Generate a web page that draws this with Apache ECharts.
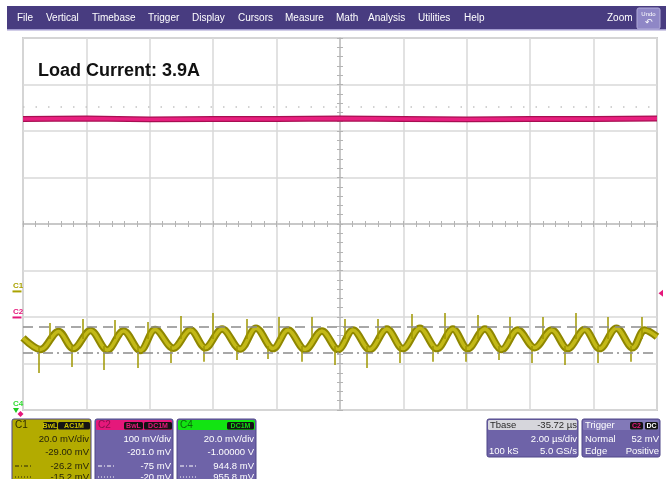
<!DOCTYPE html>
<html>
<head>
<meta charset="utf-8">
<title>Load Current: 3.9A</title>
<script src="https://cdn.jsdelivr.net/npm/echarts@6.0.0/dist/echarts.min.js"></script>
<style>
  html, body { margin: 0; padding: 0; background: #fff; }
  #scope { width: 666px; height: 479px; }
</style>
</head>
<body>
<div id="scope"></div>
<script>
  // ---- data ----
  // C1 output ripple (us, mV), peaks and troughs of the trace
  var c1Time = [-10, -9.45, -8.88, -8.41, -7.87, -7.34, -6.83, -6.30, -5.83, -5.26, -4.72,
    -4.25, -3.72, -3.15, -2.65, -2.11, -1.64, -1.10, -0.57, -0.06, 0.41,
    0.94, 1.48, 1.98, 2.52, 3.06, 3.56, 4.03, 4.57, 5.10, 5.61,
    6.14, 6.68, 7.18, 7.72, 8.19, 8.72, 9.23, 9.61, 10]
  var c1Volt = [-20.0, -25.0, -17.2, -24.6, -16.8, -25.2, -17.0, -25.4, -16.4, -24.4, -16.6,
    -24.2, -16.2, -24.8, -15.8, -24.6, -16.6, -25.0, -17.0, -25.0, -16.6,
    -25.0, -16.2, -24.6, -15.8, -24.6, -16.2, -24.6, -16.2, -25.0, -16.6,
    -24.2, -16.6, -24.6, -16.4, -24.6, -15.8, -24.2, -16.6, -19.5]
  // switching spikes on C1
  var c1DownTime = [-9.51, -8.47, -7.46, -6.39, -5.35, -4.31, -3.27, -2.27, -1.20, -0.16,
    0.85, 1.89, 2.93, 3.97, 5.01, 6.05, 7.09, 8.13, 9.17]
  var c1DownTip = [-35.1, -32.5, -33.8, -32.9, -30.8, -30.3, -29.5, -29.1, -30.3, -31.6,
    -32.9, -30.8, -30.3, -30.3, -29.5, -30.8, -31.6, -30.8, -30.3]
  var c1UpTime = [-9.17, -8.13, -7.12, -6.05, -5.01, -4.00, -2.93, -1.92, -0.88, 0.16,
    1.20, 2.27, 3.31, 4.35, 5.35, 6.39, 7.43, 8.44, 9.51]
  var c1UpTip = [-13.6, -11.9, -12.3, -13.1, -10.6, -9.3, -11.9, -11.0, -11.0, -11.9,
    -11.9, -9.7, -9.3, -10.1, -11.0, -11.0, -9.3, -11.0, -11.0]
  var c1DownBase = -23.5
  var c1UpBase = -20.5
  // C2 flat trace (us, mV)
  var c2Time = [-10, -8, -6, -4, -2, 0, 2, 4, 6, 8, 10]
  var c2Volt = [427, 428, 426, 427, 427, 428, 427, 426, 427, 427, 428]
  var c2RefLine = 453

  // channel / timebase setup
  var c1Scale = 20
  var c1Offset = -29.0
  var c2Scale = 100
  var c2Offset = -201.0
  var c1Cursors = [-26.2, -15.2]
  var trigLevel = 52
  var tbaseDiv = 2.0

  // texts
  var menuItems = ['File', 'Vertical', 'Timebase', 'Trigger', 'Display', 'Cursors', 'Measure', 'Math', 'Analysis', 'Utilities', 'Help']
  var title = 'Load Current: 3.9A'
  var c1Rows = ['20.0 mV/div', '-29.00 mV', '-26.2 mV', '-15.2 mV']
  var c2Rows = ['100 mV/div', '-201.0 mV', '-75 mV', '-20 mV']
  var c4Rows = ['20.0 mV/div', '-1.00000 V', '944.8 mV', '955.8 mV']
  var tbaseRows = ['-35.72 µs', '2.00 µs/div', '100 kS', '5.0 GS/s']
  var trigRows = ['Normal', '52 mV', 'Edge', 'Positive']

  var FONT = '9.5px "Liberation Sans", Arial, sans-serif'
  var PURPLE = '#6e63a8'
  var PINK = '#e5187b'

  function zip (a, b) {
    return a.map(function (v, i) { return [v, b[i]] })
  }

  var spikes = []
  c1DownTime.forEach(function (t, i) {
    spikes.push([{ coord: [t, c1DownBase] }, { coord: [t, c1DownTip[i]] }])
  })
  c1UpTime.forEach(function (t, i) {
    spikes.push([{ coord: [t, c1UpBase] }, { coord: [t, c1UpTip[i]] }])
  })

  var chart = echarts.init(document.getElementById('scope'))

  var tickStyle = { color: '#b4b4b4', width: 1 }
  var centerX = {
    type: 'value',
    min: -5 * tbaseDiv,
    max: 5 * tbaseDiv,
    interval: tbaseDiv,
    axisLabel: { show: false },
    axisLine: { onZero: true, onZeroAxisIndex: 0, lineStyle: { color: '#c6c6c6', width: 1.5 } },
    axisTick: { show: true, inside: true, length: 3, lineStyle: tickStyle },
    minorTick: { show: true, splitNumber: 5, length: 3, lineStyle: tickStyle },
    splitLine: { show: true, lineStyle: { color: '#d9d9d9', width: 1.5 } }
  }
  var centerY = {
    type: 'value',
    min: -4,
    max: 4,
    interval: 1,
    axisLabel: { show: false },
    axisLine: { onZero: true, onZeroAxisIndex: 0, lineStyle: { color: '#c6c6c6', width: 1.5 } },
    axisTick: { show: true, inside: true, length: 3, lineStyle: tickStyle },
    minorTick: { show: true, splitNumber: 5, length: 3, lineStyle: tickStyle },
    splitLine: { show: true, lineStyle: { color: '#d9d9d9', width: 1.5 } }
  }

  var option = {
    animation: false,
    backgroundColor: '#fff',
    grid: {
      left: 23,
      right: 9,
      top: 38,
      bottom: 69,
      show: true,
      borderColor: '#cccccc',
      borderWidth: 2,
      outerBoundsMode: 'none'
    },
    xAxis: [
      Object.assign({}, centerX, { position: 'bottom' }),
      Object.assign({}, centerX, { position: 'top', splitLine: { show: false } })
    ],
    yAxis: [
      Object.assign({}, centerY, { position: 'left' }),
      Object.assign({}, centerY, { position: 'right', splitLine: { show: false } }),
      // C1 volts
      { type: 'value', show: false, min: -c1Offset - 4 * c1Scale, max: -c1Offset + 4 * c1Scale, splitLine: { show: false } },
      // C2 volts
      { type: 'value', show: false, min: -c2Offset - 4 * c2Scale, max: -c2Offset + 4 * c2Scale, splitLine: { show: false } }
    ],
    series: [
      {
        name: 'C2 edge',
        type: 'line',
        yAxisIndex: 3,
        symbol: 'none',
        silent: true,
        data: zip(c2Time, c2Volt),
        lineStyle: { color: '#a80e52', width: 6 },
        markLine: {
          silent: true,
          symbol: ['none', 'none'],
          label: { show: false },
          lineStyle: { color: '#c4c4c4', width: 1.5, type: [1.5, 11] },
          data: [{ yAxis: c2RefLine }]
        }
      },
      {
        name: 'C2',
        type: 'line',
        yAxisIndex: 3,
        symbol: 'none',
        silent: true,
        data: zip(c2Time, c2Volt),
        lineStyle: { color: '#e8207f', width: 3.5 }
      },
      {
        name: 'C1 edge',
        type: 'line',
        yAxisIndex: 2,
        symbol: 'none',
        smooth: 0.35,
        silent: true,
        data: zip(c1Time, c1Volt),
        lineStyle: { color: '#8f8700', width: 7.5 },
        markLine: {
          silent: true,
          symbol: ['none', 'none'],
          label: { show: false },
          lineStyle: { color: '#9f9700', width: 1.5, type: 'solid' },
          data: spikes
        }
      },
      {
        name: 'C1',
        type: 'line',
        yAxisIndex: 2,
        symbol: 'none',
        smooth: 0.35,
        silent: true,
        data: zip(c1Time, c1Volt),
        lineStyle: { color: '#c3b917', width: 3.5 },
        markLine: {
          silent: true,
          symbol: ['none', 'none'],
          label: { show: false },
          data: [
            { yAxis: c1Cursors[0], lineStyle: { color: '#8c8c8c', width: 1.5, type: [10, 4, 2, 4] } },
            { yAxis: c1Cursors[1], lineStyle: { color: '#8c8c8c', width: 1.5, type: [10, 6] } }
          ]
        }
      }
    ]
  }
  chart.setOption(option)

  // ---- screen furniture: menu, labels, channel panels ----
  function box (x, y, w, h, fill, stroke, r) {
    return {
      type: 'rect',
      shape: { x: x, y: y, width: w, height: h, r: r == null ? 2 : r },
      style: { fill: fill, stroke: stroke || null, lineWidth: 1 }
    }
  }
  function txt (x, y, s, fill, font, align) {
    return {
      type: 'text',
      x: x,
      y: y,
      style: { text: s, fill: fill, font: font || FONT, align: align || 'left', verticalAlign: 'middle' }
    }
  }
  function dashLine (x, y, color, dash) {
    return {
      type: 'line',
      shape: { x1: x, y1: y, x2: x + 16, y2: y },
      style: { stroke: color, lineWidth: 1, lineDash: dash }
    }
  }
  function badge (x, w, s, color) {
    return [
      box(x, 422, w, 7.5, '#141414', null, 1.5),
      txt(x + w / 2, 426, s, color, 'bold 7px "Liberation Sans", Arial, sans-serif', 'center')
    ]
  }
  function chanPanel (x, w, head, body, name, nameColor, badges, rows, ink) {
    var els = [
      box(x, 419, w, 64, body, '#4f4688'),
      box(x + 1, 420, w - 2, 10, head, null, 1.5),
      txt(x + 3, 425.5, name, nameColor, '10px "Liberation Sans", Arial, sans-serif')
    ]
    badges.forEach(function (b) {
      els = els.concat(badge(b[0], b[1], b[2], b[3]))
    })
    var right = x + w - 2
    els.push(txt(right, 439, rows[0], ink, null, 'right'))
    els.push(txt(right, 452, rows[1], ink, null, 'right'))
    els.push(dashLine(x + 3, 466, ink, [4, 2, 1, 2]))
    els.push(txt(right, 466, rows[2], ink, null, 'right'))
    els.push(dashLine(x + 3, 477, ink, [1, 2]))
    els.push(txt(right, 477, rows[3], ink, null, 'right'))
    return els
  }

  var menuX = [17, 46, 92, 148, 192, 238, 285, 336, 368, 418, 464]
  var g = [
    box(7, 6, 659, 23, '#483c80', null, 0),
    box(7, 29, 659, 1.5, '#a39cd0', null, 0)
  ]
  menuItems.forEach(function (m, i) {
    g.push(txt(menuX[i], 18, m, '#ffffff', '10px "Liberation Sans", Arial, sans-serif'))
  })
  g.push(txt(607, 18, 'Zoom', '#ffffff', '10px "Liberation Sans", Arial, sans-serif'))
  g.push(box(637, 8, 23, 21, '#8f87c6', '#b2acd9', 2))
  g.push(txt(648.5, 14, 'Undo', '#ffffff', '6px "Liberation Sans", Arial, sans-serif', 'center'))
  g.push(txt(648.5, 23, '\u21b6', '#ffffff', '9px "DejaVu Sans", sans-serif', 'center'))

  // caption in the graticule
  g.push(txt(38, 71, title, '#111111', 'bold 18px "Liberation Sans", Arial, sans-serif'))

  // channel ground markers, placed through the channel axes
  var left = chart.convertToPixel({ xAxisIndex: 0 }, -5 * tbaseDiv)
  var right = chart.convertToPixel({ xAxisIndex: 0 }, 5 * tbaseDiv)
  var bottom = chart.convertToPixel({ yAxisIndex: 0 }, -4)
  var c1Zero = chart.convertToPixel({ yAxisIndex: 2 }, 0)
  var c2Zero = chart.convertToPixel({ yAxisIndex: 3 }, 0)
  var trigY = chart.convertToPixel({ yAxisIndex: 3 }, trigLevel)
  var mk = 'bold 8px "Liberation Sans", Arial, sans-serif'

  g.push(txt(left - 10, c1Zero - 5.5, 'C1', '#aaa200', mk))
  g.push(box(left - 10.5, c1Zero - 1, 9, 2, '#aaa200', null, 0))
  g.push(txt(left - 10, c2Zero - 5.5, 'C2', PINK, mk))
  g.push(box(left - 10.5, c2Zero - 1, 9, 2, PINK, null, 0))
  g.push(txt(left - 10, bottom - 6, 'C4', '#33dd33', mk))
  g.push({ type: 'polygon', shape: { points: [[left - 10, bottom - 2], [left - 4, bottom - 2], [left - 7, bottom + 3]] }, style: { fill: '#22cc22' } })
  g.push({ type: 'polygon', shape: { points: [[left - 2.5, bottom + 1], [left + 0.5, bottom + 4], [left - 2.5, bottom + 7], [left - 5.5, bottom + 4]] }, style: { fill: PINK } })
  g.push({ type: 'polygon', shape: { points: [[right + 6, trigY - 3.5], [right + 6, trigY + 3.5], [right + 1.5, trigY]] }, style: { fill: PINK } })

  // channel panels
  g = g.concat(chanPanel(12, 79, '#b3ab00', '#b3ab00', 'C1', '#2e2b00',
    [[43, 14, 'BwL', '#c8c000'], [58, 32, 'AC1M', '#c8c000']], c1Rows, '#26240a'))
  g = g.concat(chanPanel(95, 78, PINK, PURPLE, 'C2', '#8a0f4e',
    [[124, 19, 'BwL', PINK], [144, 28, 'DC1M', PINK]], c2Rows, '#ffffff'))
  g = g.concat(chanPanel(177, 79, '#12e412', PURPLE, 'C4', '#0b6a0b',
    [[227, 27, 'DC1M', '#14d814']], c4Rows, '#ffffff'))

  // timebase panel
  g.push(box(487, 419, 91, 38, PURPLE, '#4f4688'))
  g.push(box(488, 420, 89, 10, '#d6d6dc', null, 1.5))
  g.push(txt(490, 425.5, 'Tbase', '#2a2a2a'))
  g.push(txt(577, 425.5, tbaseRows[0], '#2a2a2a', null, 'right'))
  g.push(txt(577, 439, tbaseRows[1], '#ffffff', null, 'right'))
  g.push(txt(489, 451, tbaseRows[2], '#ffffff'))
  g.push(txt(577, 451, tbaseRows[3], '#ffffff', null, 'right'))

  // trigger panel
  g.push(box(582, 419, 78, 38, PURPLE, '#4f4688'))
  g.push(box(583, 420, 76, 10, '#8279b8', null, 1.5))
  g.push(txt(585, 425.5, 'Trigger', '#ffffff'))
  g = g.concat(badge(630, 13, 'C2', PINK))
  g = g.concat(badge(645, 13, 'DC', '#ffffff'))
  g.push(txt(585, 439, trigRows[0], '#ffffff'))
  g.push(txt(659, 439, trigRows[1], '#ffffff', null, 'right'))
  g.push(txt(585, 451, trigRows[2], '#ffffff'))
  g.push(txt(659, 451, trigRows[3], '#ffffff', null, 'right'))

  chart.setOption({ graphic: g })
</script>
</body>
</html>
